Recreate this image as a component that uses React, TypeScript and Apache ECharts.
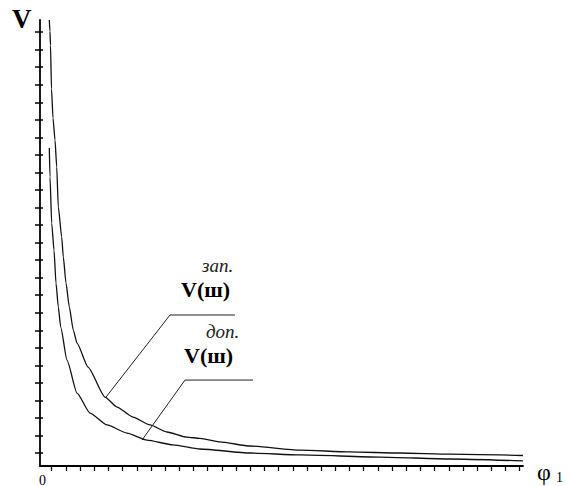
import React, { useEffect, useRef } from "react";
import * as echarts from "echarts";

// Axis extents (in tick units)
const X_MAX = 34.06;
const Y_MAX = 25.43;

// Tick positions (tick-spacing units)
const xTickOffset = 0.825;
const xTickCount = 34;
const yTickOffset = 0.74;
const yTickCount = 25;

// Curve V(ш) зап. (upper curve)
const outerX = [0.656, 0.7, 0.74, 0.811, 0.917, 1.058, 1.178, 1.291, 1.53, 1.643, 1.834, 2.066, 2.348, 2.609, 3.385, 4.584, 5.43, 6.559, 7.757, 8.956, 10.367, 11.28, 12.69, 14.81, 18.34, 21.86, 25.39, 28.91, 34.06];
const outerY = [25.43, 24.8, 24.0, 21.5, 19.84, 18.59, 17.05, 14.77, 13.06, 11.92, 10.43, 9.07, 7.75, 7.01, 5.64, 3.93, 3.36, 2.79, 2.34, 1.94, 1.65, 1.57, 1.37, 1.14, 0.91, 0.8, 0.74, 0.68, 0.6];

// Curve V(ш) доп. (lower curve)
const innerX = [0.656, 0.705, 0.825, 0.987, 1.128, 1.291, 1.46, 1.904, 2.609, 3.526, 4.725, 6.135, 7.546, 9.379, 11.28, 14.81, 18.34, 23.98, 28.91, 34.06];
const innerY = [18.13, 16.48, 13.85, 12.31, 10.43, 9.07, 7.92, 6.04, 4.16, 3.02, 2.34, 1.88, 1.48, 1.2, 0.97, 0.74, 0.63, 0.51, 0.4, 0.29];

// Leader lines for the labels
const leader1X = [4.654, 9.168, 13.75];
const leader1Y = [3.93, 8.61, 8.61];
const leader2X = [7.193, 10.226, 15.02];
const leader2Y = [1.48, 4.9, 4.9];

const zip = (xs: number[], ys: number[]) => xs.map((x, i) => [x, ys[i]]);

export default function App() {
  const ref = useRef<HTMLDivElement>(null);
  useEffect(() => {
    if (!ref.current) return;
    const chart = echarts.init(ref.current, undefined, { renderer: "svg" });
    const xTicks: number[] = [];
    for (let k = 0; k < xTickCount; k++) xTicks.push(+(xTickOffset + k).toFixed(3));
    const yTicks: number[] = [];
    for (let k = 0; k < yTickCount; k++) yTicks.push(+(yTickOffset + k).toFixed(3));

    const serif = "Times New Roman, serif";
    const lineStyle = { color: "#111", width: 1.3 };

    const txt = (x: number, y: number, text: string, size: number, weight: string, style: string, family: string, fill = "#000") => ({
      type: "text",
      x,
      y,
      style: { text, fontSize: size, fontWeight: weight, fontStyle: style, fontFamily: family, fill, verticalAlign: "middle" },
    });

    chart.setOption({
      animation: false,
      backgroundColor: "#fff",
      grid: { left: 40, right: 44, top: 20, bottom: 20 },
      xAxis: {
        type: "value",
        min: 0,
        max: X_MAX,
        axisLine: { show: true, lineStyle: { color: "#000", width: 1.8 } },
        axisTick: { show: true, length: 5, customValues: xTicks, lineStyle: { color: "#000", width: 1.3 } },
        axisLabel: { show: false },
        splitLine: { show: false },
      },
      yAxis: [
        {
          type: "value",
          position: "left",
          min: 0,
          max: Y_MAX,
          axisLine: { show: true, lineStyle: { color: "#000", width: 1.8 } },
          axisTick: { show: true, length: 5, customValues: yTicks, lineStyle: { color: "#000", width: 1.5 } },
          axisLabel: { show: false },
          splitLine: { show: false },
        },
        {
          type: "value",
          position: "left",
          offset: 0,
          min: 0,
          max: Y_MAX,
          axisLine: { show: false },
          axisTick: { show: true, inside: true, length: 3, customValues: yTicks, lineStyle: { color: "#000", width: 1.5 } },
          axisLabel: { show: false },
          splitLine: { show: false },
        },
      ],
      series: [
        { type: "line", data: zip(outerX, outerY), showSymbol: false, smooth: 0.2, smoothMonotone: "x", lineStyle },
        { type: "line", data: zip(innerX, innerY), showSymbol: false, smooth: 0.2, smoothMonotone: "x", lineStyle },
        { type: "line", data: zip(leader1X, leader1Y), showSymbol: false, lineStyle: { color: "#222", width: 1 } },
        { type: "line", data: zip(leader2X, leader2Y), showSymbol: false, lineStyle: { color: "#222", width: 1 } },
      ],
      graphic: [
        txt(12, 19, "V", 27, "bold", "normal", serif),
        txt(39, 480, "0", 14, "normal", "normal", serif),
        txt(537, 472, "φ", 24, "normal", "normal", serif),
        txt(556, 477, "1", 14, "normal", "normal", serif),
        txt(202, 265, "зап.", 19, "normal", "italic", serif, "#222"),
        txt(181, 289, "V(ш)", 22, "bold", "normal", serif),
        txt(206, 331, "доп.", 19, "normal", "italic", serif, "#222"),
        txt(184, 355, "V(ш)", 22, "bold", "normal", serif),
      ],
    });
    return () => chart.dispose();
  }, []);
  return <div ref={ref} style={{ position: "fixed", left: 0, top: 0, width: 567, height: 486 }} />;
}
